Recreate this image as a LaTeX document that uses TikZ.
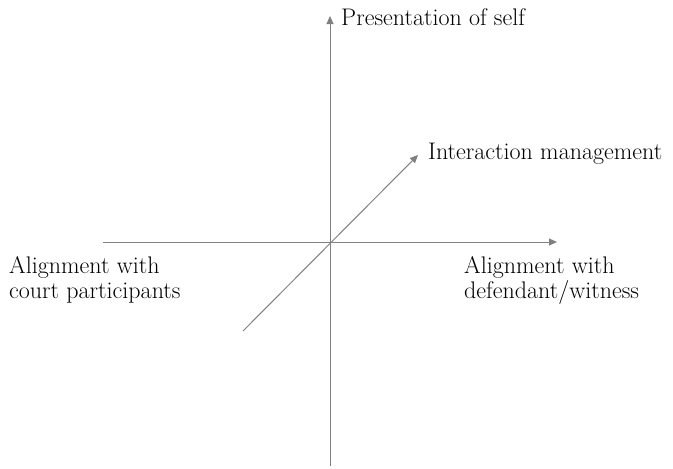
\documentclass[tikz,border=0pt]{standalone}
\usetikzlibrary{arrows.meta}
\begin{document}
\begin{tikzpicture}[x=1pt,y=-1pt,
  axis/.style={draw=black!50, line width=1pt, -{Triangle[length=8pt,width=7pt]}},
  lbl/.style={inner sep=0pt, font=\fontsize{24}{25}\selectfont, align=left, text=black}]
\useasboundingbox (0,0) rectangle (673,469);
% axis end points
\coordinate (vbot) at (330,466);
\coordinate (vtop) at (330,16);
\coordinate (hleft) at (103,242);
\coordinate (hright) at (557,242);
\coordinate (dstart) at (243,331);
\coordinate (dend) at (418,155);
\draw[axis] (vbot) -- (vtop);
\draw[axis] (hleft) -- (hright);
\draw[axis] (dstart) -- (dend);
% labels
\node[lbl, anchor=base west] (self) at (341,25) {Presentation of self};
\node[lbl, anchor=base west] (inter) at (428,159) {Interaction management};
\node[lbl, anchor=north west] (left) at (9,256) {Alignment with\\court participants};
\node[lbl, anchor=north west] (right) at (464,256) {Alignment with\\defendant/witness};
\end{tikzpicture}
\end{document}
